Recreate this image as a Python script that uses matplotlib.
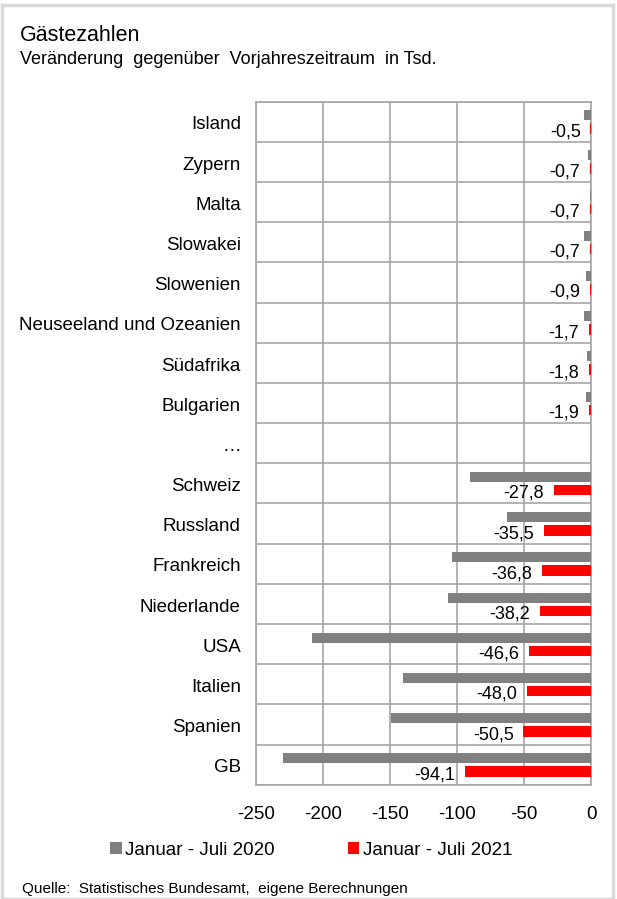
import matplotlib.pyplot as plt
import numpy as np
from matplotlib.patches import Rectangle

plt.rcParams['font.family'] = ['Liberation Sans', 'DejaVu Sans']

laender = ["Island", "Zypern", "Malta", "Slowakei", "Slowenien",
           "Neuseeland und Ozeanien", "Südafrika", "Bulgarien", "…",
           "Schweiz", "Russland", "Frankreich", "Niederlande", "USA",
           "Italien", "Spanien", "GB"]
werte_2020 = [-5, -2, -1, -5, -4, -5, -3, -4, np.nan,
              -90, -63, -104, -107, -208, -140, -149, -230]
werte_2021 = [-0.5, -0.7, -0.7, -0.7, -0.9, -1.7, -1.8, -1.9, np.nan,
              -27.8, -35.5, -36.8, -38.2, -46.6, -48.0, -50.5, -94.1]
x_ticks = [-250, -200, -150, -100, -50, 0]

grau = '#808080'
rot = '#ff0000'
gitter = '#a6a6a6'

fig = plt.figure(figsize=(6.17, 8.99), dpi=100)
fig.patches.append(Rectangle((0.004, 0.0), 0.99, 0.994, transform=fig.transFigure,
                             fill=False, edgecolor='#d9d9d9', linewidth=2.5))

ax = fig.add_axes([0.415, 0.127, 0.543, 0.760])
y = np.arange(len(laender))

ax.barh(y - 0.16, werte_2020, height=0.25, color=grau, label='Januar - Juli 2020', zorder=3)
ax.barh(y + 0.17, werte_2021, height=0.26, color=rot, label='Januar - Juli 2021', zorder=3)

for i, v in enumerate(werte_2021):
    if np.isnan(v):
        continue
    ax.annotate(f"{v:.1f}".replace('.', ','), xy=(v, i + 0.25), xytext=(-7, 0),
                textcoords='offset points', ha='right', va='center', fontsize=13)

for i, name in enumerate(laender):
    ax.annotate(name, xy=(0, i + 0.08), xycoords=('axes fraction', 'data'),
                xytext=(-11, 0), textcoords='offset points',
                ha='right', va='center', fontsize=13.5)

ax.set_xlim(-250, 0)
ax.set_ylim(len(laender) - 0.5, -0.5)
ax.set_xticks(x_ticks)
ax.set_xticklabels([str(t) for t in x_ticks], fontsize=13.5)
ax.set_yticks([])
ax.set_yticks(np.arange(len(laender) + 1) - 0.5, minor=True)
ax.tick_params(axis='x', length=0, pad=15)
ax.tick_params(axis='y', which='both', length=0)
ax.grid(axis='x', color=gitter, linewidth=1.2, zorder=0)
ax.grid(axis='y', which='minor', color=gitter, linewidth=1.2, zorder=0)
for s in ax.spines.values():
    s.set_color(gitter)
    s.set_linewidth(1.2)

fig.legend(loc='center', bbox_to_anchor=(0.505, 0.054), ncol=2, frameon=False,
           fontsize=13.5, handlelength=0.6, handleheight=0.6, handletextpad=0.2,
           columnspacing=3.9)

fig.text(0.032, 0.960, "Gästezahlen", fontsize=15.5, va='center')
fig.text(0.032, 0.934, "Veränderung  gegenüber  Vorjahreszeitraum  in Tsd.", fontsize=13, va='center')
fig.text(0.036, 0.011, "Quelle:  Statistisches Bundesamt,  eigene Berechnungen", fontsize=11, va='center')

fig.savefig('out.png', dpi=100)
